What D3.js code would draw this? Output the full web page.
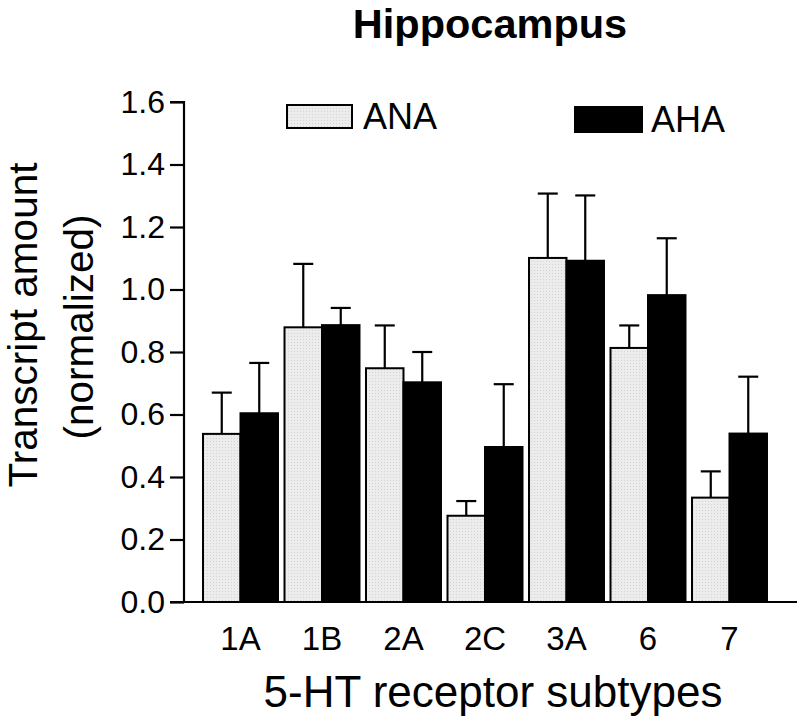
<!DOCTYPE html>
<html>
<head>
<meta charset="utf-8">
<script src="https://cdn.jsdelivr.net/npm/d3@7"></script>
<style>
  html, body { margin: 0; padding: 0; background: #fff; }
  svg { display: block; font-family: "Liberation Sans", Arial, Helvetica, sans-serif; }
</style>
</head>
<body>
<svg id="chart" width="800" height="719"></svg>
<script>
// ---- data ----
const categories = ["1A", "1B", "2A", "2C", "3A", "6", "7"];
const seriesNames = ["ANA", "AHA"];
const anaValues = [0.538, 0.879, 0.748, 0.276, 1.101, 0.813, 0.334];
const anaErrors = [0.132, 0.203, 0.137, 0.047, 0.206, 0.072, 0.084];
const ahaValues = [0.604, 0.886, 0.703, 0.496, 1.092, 0.982, 0.539];
const ahaErrors = [0.161, 0.055, 0.097, 0.201, 0.209, 0.182, 0.182];
const yTicks = [0, 0.2, 0.4, 0.6, 0.8, 1.0, 1.2, 1.4, 1.6];

const fills = { ANA: "#e6e6e6", AHA: "#000000" };

const svg = d3.select("#chart");

const y = d3.scaleLinear().domain([0, 1.6]).range([602, 102]);
const x = d3.scaleBand().domain(categories).range([199.75, 770.25])
  .paddingInner(0.08).paddingOuter(0.04);
const xs = d3.scaleBand().domain(seriesNames).range([0, x.bandwidth()]).padding(0);

// dotted texture for ANA
const defs = svg.append("defs");
const pat = defs.append("pattern").attr("id", "dots").attr("width", 3).attr("height", 3)
  .attr("patternUnits", "userSpaceOnUse");
pat.append("rect").attr("width", 3).attr("height", 3).attr("fill", "#ececec");
pat.append("rect").attr("width", 1).attr("height", 1).attr("fill", "#d4d4d4");

const rows = [];
categories.forEach((c, i) => {
  rows.push({ cat: c, s: "ANA", v: anaValues[i], e: anaErrors[i] });
  rows.push({ cat: c, s: "AHA", v: ahaValues[i], e: ahaErrors[i] });
});

// error bars (behind bars)
const eg = svg.append("g").attr("stroke", "#000").attr("stroke-width", 2.2);
rows.forEach(d => {
  const cx = x(d.cat) + xs(d.s) + xs.bandwidth() / 2;
  eg.append("line").attr("x1", cx).attr("x2", cx).attr("y1", y(d.v)).attr("y2", y(d.v + d.e));
  eg.append("line").attr("x1", cx - 10).attr("x2", cx + 10).attr("y1", y(d.v + d.e)).attr("y2", y(d.v + d.e));
});

// bars
svg.append("g").selectAll("rect").data(rows).join("rect")
  .attr("x", d => x(d.cat) + xs(d.s))
  .attr("width", xs.bandwidth())
  .attr("y", d => y(d.v))
  .attr("height", d => y(0) - y(d.v))
  .attr("fill", d => d.s === "ANA" ? "url(#dots)" : fills.AHA)
  .attr("stroke", "#000")
  .attr("stroke-width", 2);

// y axis
const yAxis = d3.axisLeft(y).tickValues(yTicks).tickFormat(d3.format(".1f"))
  .tickSize(14).tickPadding(5);
const yg = svg.append("g").attr("transform", "translate(184,0)").call(yAxis);
yg.select(".domain").attr("stroke-width", 2.2).attr("d", `M-14,${y(1.6)}H0V${y(0)}H-14`);
yg.selectAll(".tick line").attr("stroke-width", 2.2);
yg.selectAll(".tick text").attr("font-size", 32).attr("fill", "#000")
  .attr("font-family", "Liberation Sans, Arial, sans-serif");

// x axis line
svg.append("line").attr("x1", 184).attr("x2", 797).attr("y1", y(0)).attr("y2", y(0))
  .attr("stroke", "#000").attr("stroke-width", 2.2);

// x tick labels
svg.append("g").selectAll("text").data(categories).join("text")
  .attr("x", d => x(d) + x.bandwidth() / 2)
  .attr("y", 650)
  .attr("text-anchor", "middle")
  .attr("font-size", 33)
  .text(d => d);

// axis titles
svg.append("text").attr("x", 493).attr("y", 707).attr("text-anchor", "middle")
  .attr("font-size", 44).text("5-HT receptor subtypes");

svg.append("text").attr("transform", "translate(37,325) rotate(-90)")
  .attr("text-anchor", "middle").attr("font-size", 40.5).text("Transcript amount");
svg.append("text").attr("transform", "translate(93,327) rotate(-90)")
  .attr("text-anchor", "middle").attr("font-size", 40.5).text("(normalized)");

// chart title
svg.append("text").attr("x", 490).attr("y", 38).attr("text-anchor", "middle")
  .attr("font-size", 41.5).attr("font-weight", "bold").text("Hippocampus");

// legend
const legend = [
  { name: "ANA", rx: 287, ry: 105, rw: 65, rh: 23, tx: 363, ty: 129 },
  { name: "AHA", rx: 575, ry: 107, rw: 67, rh: 25, tx: 651, ty: 132 }
];
const lg = svg.append("g");
legend.forEach(l => {
  lg.append("rect").attr("x", l.rx).attr("y", l.ry).attr("width", l.rw).attr("height", l.rh)
    .attr("fill", l.name === "ANA" ? "url(#dots)" : fills.AHA)
    .attr("stroke", "#000").attr("stroke-width", 2);
  lg.append("text").attr("x", l.tx).attr("y", l.ty).attr("font-size", 36).text(l.name);
});
</script>
</body>
</html>
